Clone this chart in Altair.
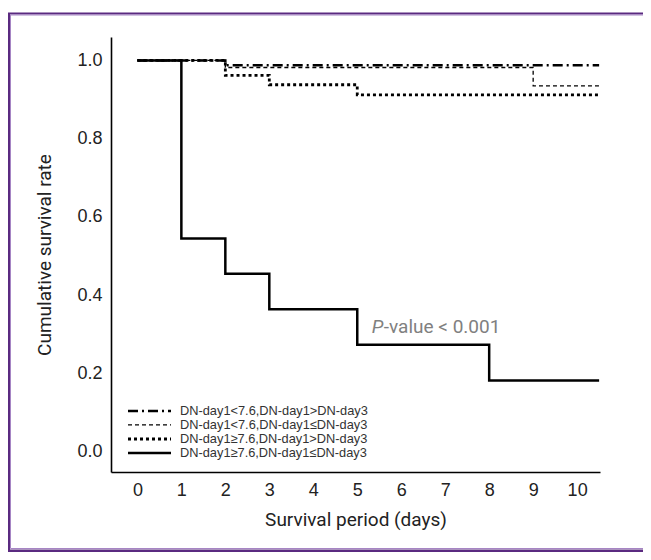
import altair as alt
import pandas as pd

# ---- data ----
groups = [
    "DN-day1<7.6,DN-day1>DN-day3",
    "DN-day1<7.6,DN-day1≤DN-day3",
    "DN-day1≥7.6,DN-day1>DN-day3",
    "DN-day1≥7.6,DN-day1≤DN-day3",
]
g1_days = [0, 2, 10.5]
g1_surv = [1.0, 0.988, 0.988]
g2_days = [0, 2, 9, 10.5]
g2_surv = [1.0, 0.982, 0.935, 0.935]
g3_days = [0, 2, 3, 5, 10.5]
g3_surv = [1.0, 0.962, 0.938, 0.912, 0.912]
g4_days = [0, 1, 2, 3, 5, 8, 10.5]
g4_surv = [1.0, 0.545, 0.455, 0.364, 0.273, 0.182, 0.182]

x_ticks = [0, 1, 2, 3, 4, 5, 6, 7, 8, 9, 10]
y_ticks = [0.0, 0.2, 0.4, 0.6, 0.8, 1.0]
p_label_pos = [5.33, 0.318]

series = [(groups[3], g4_days, g4_surv), (groups[2], g3_days, g3_surv),
          (groups[1], g2_days, g2_surv), (groups[0], g1_days, g1_surv)]
rows = []
for k, (g, ds, ss) in enumerate(series):
    for i, (d, s) in enumerate(zip(ds, ss)):
        rows.append({"group": g, "day": d, "surv": s, "draw": k, "i": i})
df = pd.DataFrame(rows)

W, H = 489, 435
title_font = "Roboto"
tick_font = "Liberation Sans"

x_scale = alt.Scale(domain=[-0.6, 10.52], nice=False, zero=False)
y_scale = alt.Scale(domain=[-0.052, 1.06], nice=False, zero=False)

legend_opts = dict(title=None, orient="none", legendX=32, legendY=367.5, padding=0,
                   symbolType="M-4.3,0L4.3,0", symbolSize=100,
                   symbolStrokeColor="black", labelFontSize=12.8,
                   labelColor="#333", labelFont=tick_font, labelLimit=0,
                   rowPadding=-3, labelOffset=24)

lines = alt.Chart(df).mark_line(interpolate="step-after", color="black", clip=True).encode(
    x=alt.X("day:Q", scale=x_scale,
            axis=alt.Axis(values=x_ticks, title="Survival period (days)", grid=False,
                          ticks=False, domainColor="black", domainWidth=1.6,
                          labelFontSize=18, labelColor="#222", labelFont=tick_font,
                          labelPadding=9, titleFont=title_font, titleFontSize=19,
                          titleFontWeight="normal", titleColor="#222", titlePadding=11)),
    y=alt.Y("surv:Q", scale=y_scale,
            axis=alt.Axis(values=y_ticks, format=".1f", title="Cumulative survival rate",
                          grid=False, ticks=False, domainColor="black", domainWidth=1.6,
                          labelFontSize=18, labelColor="#222", labelFont=tick_font,
                          labelPadding=9, titleFont=title_font, titleFontSize=19,
                          titleFontWeight="normal", titleColor="#222", titlePadding=22)),
    strokeDash=alt.StrokeDash("group:N",
                              scale=alt.Scale(domain=groups,
                                              range=[[10, 4, 2, 4], [4, 3], [3, 3], [1, 0]]),
                              legend=alt.Legend(**legend_opts)),
    strokeWidth=alt.StrokeWidth("group:N",
                                scale=alt.Scale(type="ordinal", domain=groups,
                                                range=[2.5, 1.3, 2.8, 2.5]),
                                legend=alt.Legend(**legend_opts)),
    detail="draw:N",
    order="i:Q",
)

pdf = pd.DataFrame({"day": [p_label_pos[0]], "surv": [p_label_pos[1]]})
p_italic = alt.Chart(pdf).mark_text(text="P", align="left", baseline="middle",
                                    font=title_font, fontSize=19, fontStyle="italic",
                                    color="#808080").encode(x=alt.X("day:Q", scale=x_scale),
                                                            y=alt.Y("surv:Q", scale=y_scale))
p_rest = alt.Chart(pdf).mark_text(text="-value < 0.001", align="left", baseline="middle",
                                  dx=12, font=title_font, fontSize=19,
                                  color="#808080").encode(x=alt.X("day:Q", scale=x_scale),
                                                          y=alt.Y("surv:Q", scale=y_scale))

# decorative purple page frame (open on the right, as in the reference)
dark = "#5a2a80"
light = "#a685c4"
fdf = pd.DataFrame({"a": [0]})
frame = [
    alt.Chart(fdf).mark_rect(filled=False, stroke=dark, strokeWidth=2).encode(
        x=alt.value(-102), x2=alt.value(900), y=alt.value(-23.5), y2=alt.value(514)),
    alt.Chart(fdf).mark_rect(filled=False, stroke=light, strokeWidth=1).encode(
        x=alt.value(-100.5), x2=alt.value(900), y=alt.value(-22), y2=alt.value(511.5)),
    alt.Chart(fdf).mark_rect(color=dark).encode(
        x=alt.value(-103), x2=alt.value(900), y=alt.value(512.5), y2=alt.value(530)),
]

chart = alt.layer(*frame, lines, p_italic, p_rest).properties(
    width=W, height=H,
    autosize=alt.AutoSizeParams(type="none"),
    padding={"left": 103, "top": 29, "right": 43, "bottom": 80},
).configure_view(stroke=None).resolve_scale(strokeDash="shared", strokeWidth="shared")

chart.save("out.html", embed_options={"renderer": "svg", "actions": False})
